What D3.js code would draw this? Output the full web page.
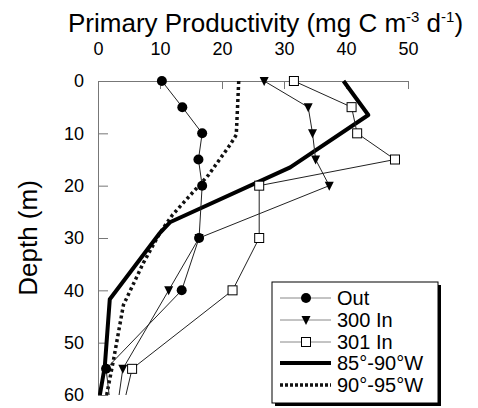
<!DOCTYPE html>
<html>
<head>
<meta charset="utf-8">
<script src="https://cdn.jsdelivr.net/npm/d3@7"></script>
<style>
  body { margin: 0; background: #fff; }
  svg { display: block; font-family: "Liberation Sans", Arial, sans-serif; }
</style>
</head>
<body>
<svg id="chart" width="478" height="408"></svg>
<script>
// depth (m) and primary productivity (mg C m-3 d-1)
var depthStations = [0, 5, 10, 15, 20, 30, 40, 55, 60];
var outValues = [10.3, 13.6, 16.8, 16.2, 16.8, 16.3, 13.5, 1.3, 1.8];
var in300Values = [26.8, 33.9, 34.6, 35.1, 37.3, 16.3, 11.4, 4.0, 3.4];
var in301Values = [31.6, 40.9, 41.8, 47.9, 26.0, 26.0, 21.7, 5.5, 4.5];

var depthsEast = [0, 6.5, 16.5, 27, 29, 41.7, 54.5, 60];
var valuesEast = [39.6, 43.6, 31.0, 11.6, 10.0, 1.9, 1.1, 0.3];
var depthsWest = [0, 10.3, 12.2, 18, 25.6, 29, 34.8, 42.8, 53.3, 60];
var valuesWest = [22.7, 22.3, 21.3, 17.8, 12.0, 10.0, 7.3, 4.1, 2.5, 1.4];

var xTicks = [0, 10, 20, 30, 40, 50];
var yTicks = [0, 10, 20, 30, 40, 50, 60];
var legendLabels = ["Out", "300 In", "301 In", "85°-90°W", "90°-95°W"];

var svg = d3.select("#chart");
var x = d3.scaleLinear().domain([0, 50]).range([98, 408]);
var y = d3.scaleLinear().domain([0, 60]).range([81, 395]);

function pairs(ds, vs) {
    return ds.map(function (d, i) { return { d: d, v: vs[i] }; });
}
var line = d3.line().x(function (p) { return x(p.v); }).y(function (p) { return y(p.d); });

// axes
var topAxis = svg.append("g").attr("transform", "translate(0,81)")
    .call(d3.axisTop(x).tickValues(xTicks).tickSizeInner(-8).tickSizeOuter(0).tickPadding(26));
var leftAxis = svg.append("g").attr("transform", "translate(98,0)")
    .call(d3.axisLeft(y).tickValues(yTicks).tickSizeInner(-10).tickSizeOuter(0).tickPadding(14));
[topAxis, leftAxis].forEach(function (g) {
    g.select(".domain").attr("stroke", "#777");
    g.selectAll(".tick line").attr("stroke", "#777");
    g.selectAll(".tick text").attr("fill", "#000").style("font-size", "18px")
        .style("font-family", "'Liberation Sans', Arial, sans-serif");
});
leftAxis.selectAll(".tick").filter(function (d) { return d == 0; }).select("line").remove();

// titles
var title = svg.append("text").attr("x", 68).attr("y", 32).style("font-size", "26px");
title.append("tspan").text("Primary Productivity (mg C m");
title.append("tspan").attr("dy", -10).style("font-size", "15px").text("-3");
title.append("tspan").attr("dy", 10).text(" d");
title.append("tspan").attr("dy", -10).style("font-size", "15px").text("-1");
title.append("tspan").attr("dy", 10).text(")");

svg.append("text").attr("transform", "translate(37,238) rotate(-90)")
    .attr("text-anchor", "middle").style("font-size", "26px").text("Depth (m)");

// regional profiles
svg.append("path").datum(pairs(depthsWest, valuesWest)).attr("d", line)
    .attr("fill", "none").attr("stroke", "#111").attr("stroke-width", 3.5)
    .attr("stroke-dasharray", "3,3");
svg.append("path").datum(pairs(depthsEast, valuesEast)).attr("d", line)
    .attr("fill", "none").attr("stroke", "#000").attr("stroke-width", 4)
    .attr("stroke-linejoin", "round");

// station profiles
var series = [
    { values: in301Values, marker: "square" },
    { values: in300Values, marker: "triangle" },
    { values: outValues, marker: "circle" }
];
function drawMarker(g, type, cx, cy) {
    if (type == "circle") {
        g.append("circle").attr("cx", cx).attr("cy", cy).attr("r", 5).attr("fill", "#000");
    } else if (type == "triangle") {
        g.append("path").attr("d", "M" + (cx - 4.5) + "," + (cy - 4) + "L" + (cx + 4.5) + "," + (cy - 4) + "L" + cx + "," + (cy + 5) + "Z")
            .attr("fill", "#000");
    } else {
        g.append("rect").attr("x", cx - 4.5).attr("y", cy - 4.5).attr("width", 9).attr("height", 9)
            .attr("fill", "#fff").attr("stroke", "#000").attr("stroke-width", 1);
    }
}
series.forEach(function (s) {
    svg.append("path").datum(pairs(depthStations, s.values)).attr("d", line)
        .attr("fill", "none").attr("stroke", "#222").attr("stroke-width", 1);
});
series.forEach(function (s) {
    var g = svg.append("g");
    pairs(depthStations, s.values).forEach(function (p) {
        if (p.d < 60) drawMarker(g, s.marker, x(p.v), y(p.d));
    });
});

// legend
var lg = svg.append("g");
lg.append("rect").attr("x", 275).attr("y", 285).attr("width", 166).attr("height", 121).attr("fill", "#000");
lg.append("rect").attr("x", 272).attr("y", 282).attr("width", 166).attr("height", 121)
    .attr("fill", "#fff").attr("stroke", "#000").attr("stroke-width", 1);
var rowY = [298, 320, 342, 363, 385];
legendLabels.forEach(function (label, i) {
    var yy = rowY[i];
    var l = lg.append("line").attr("x1", 280).attr("x2", 331).attr("y1", yy).attr("y2", yy);
    if (i < 3) {
        l.attr("stroke", "#888").attr("stroke-width", 1);
        drawMarker(lg, ["circle", "triangle", "square"][i], 306, yy);
    } else if (i == 3) {
        l.attr("stroke", "#000").attr("stroke-width", 4);
    } else {
        l.attr("stroke", "#111").attr("stroke-width", 3.5).attr("stroke-dasharray", "3,2");
    }
    lg.append("text").attr("x", 337).attr("y", yy).attr("dy", "0.35em")
        .style("font-size", "20px").text(label);
});
</script>
</body>
</html>
